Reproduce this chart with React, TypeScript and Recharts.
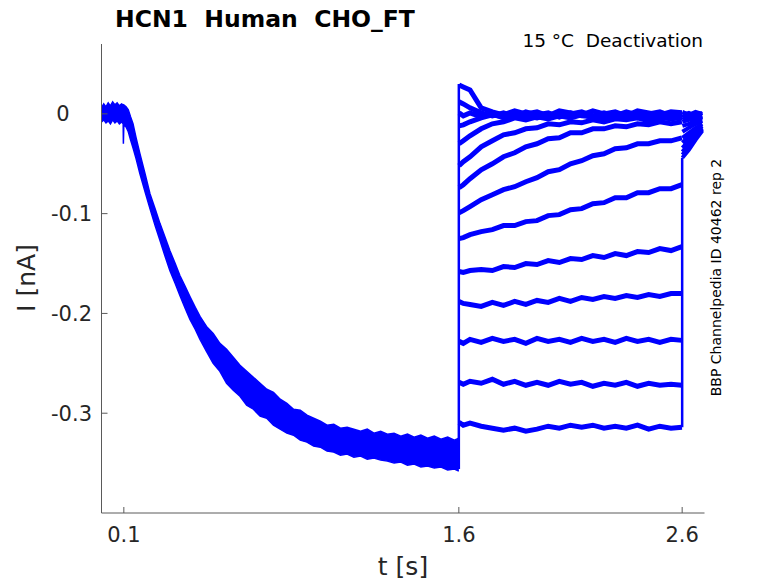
import { ComposedChart, Area, Line, XAxis, YAxis } from 'recharts';

// axis ticks
const X_TICKS = [0.1, 1.6, 2.6];
const Y_TICKS = [-0.3, -0.2, -0.1, 0];

// activation phase (all sweeps overlap): time [s], upper / lower edge of the band [nA]
const ACT_T = [
  0.0, 0.01, 0.02, 0.03, 0.04, 0.05, 0.06, 0.07, 0.08, 0.09,
  0.097, 0.098, 0.1, 0.11, 0.12, 0.13, 0.141, 0.155, 0.172, 0.195,
  0.217, 0.24, 0.262, 0.285, 0.306, 0.33, 0.351, 0.375, 0.396, 0.42,
  0.441, 0.47, 0.5, 0.53, 0.56, 0.59, 0.62, 0.65, 0.68, 0.71,
  0.74, 0.77, 0.8, 0.83, 0.86, 0.89, 0.92, 0.95, 0.98, 1.01,
  1.04, 1.07, 1.1, 1.13, 1.16, 1.19, 1.22, 1.25, 1.28, 1.31,
  1.34, 1.37, 1.4, 1.43, 1.46, 1.49, 1.52, 1.55, 1.58, 1.6,
];
const ACT_HI = [
  0.006, 0.01, 0.007, 0.011, 0.008, 0.012, 0.009, 0.011, 0.008, 0.01,
  0.009, 0.008, 0.009, 0.007, 0.004, -0.003, -0.01, -0.024, -0.04, -0.06,
  -0.08, -0.095, -0.11, -0.124, -0.137, -0.15, -0.162, -0.173, -0.183, -0.194,
  -0.203, -0.213, -0.22, -0.23, -0.236, -0.244, -0.252, -0.258, -0.264, -0.27,
  -0.276, -0.279, -0.286, -0.29, -0.296, -0.297, -0.302, -0.305, -0.308, -0.312,
  -0.311, -0.315, -0.314, -0.316, -0.318, -0.316, -0.32, -0.318, -0.321, -0.32,
  -0.323, -0.321, -0.324, -0.322, -0.325, -0.323, -0.326, -0.324, -0.327, -0.325,
];
const ACT_LO = [
  -0.008, -0.006, -0.009, -0.007, -0.01, -0.006, -0.009, -0.007, -0.01, -0.008,
  -0.01, -0.03, -0.011, -0.013, -0.018, -0.026, -0.034, -0.045, -0.06, -0.078,
  -0.095, -0.112, -0.127, -0.143, -0.157, -0.17, -0.182, -0.195, -0.206, -0.216,
  -0.226, -0.238, -0.25, -0.258, -0.27, -0.277, -0.283, -0.292, -0.296, -0.303,
  -0.305, -0.312, -0.316, -0.32, -0.322, -0.327, -0.329, -0.333, -0.334, -0.338,
  -0.339, -0.342, -0.341, -0.344, -0.343, -0.346, -0.345, -0.347, -0.348, -0.35,
  -0.349, -0.352, -0.351, -0.354, -0.353, -0.355, -0.354, -0.357, -0.356, -0.358,
];

// voltage steps at 1.6 s and 2.6 s: span of the jumps [nA]
const STEP_ON = [-0.356, 0.03];
const STEP_OFF = [-0.314, -0.044];

// deactivation phase: time [s] and one current trace per test step [nA]
// the first 22 samples run to the end of the test pulse, the last 4 are the tail after it
const STEP_T = [
  1.601, 1.62, 1.65, 1.7, 1.75, 1.8, 1.85, 1.9, 1.95, 2.0,
  2.05, 2.1, 2.15, 2.2, 2.25, 2.3, 2.35, 2.4, 2.45, 2.5,
  2.55, 2.599, 2.601, 2.63, 2.66, 2.69,
];
const PULSE_END = 22;
const SWEEP_01 = [0.029, 0.027, 0.024, 0.006, 0.002, -0.001, 0.003, 0.0, 0.002, -0.002, 0.003, 0.001, -0.001, 0.003, 0.0, 0.002, -0.002, 0.003, 0.001, -0.001, 0.002, 0.001, 0.002, -0.001, 0.002, 0.0];
const SWEEP_02 = [0.012, 0.01, 0.006, 0.001, -0.002, 0.001, -0.003, 0.002, -0.001, 0.001, -0.003, 0.0, 0.002, -0.002, 0.001, -0.002, 0.002, -0.001, 0.0, 0.002, -0.002, 0.0, -0.001, 0.001, -0.002, 0.001];
const SWEEP_03 = [0.001, -0.002, 0.001, -0.003, 0.0, -0.004, 0.0, -0.003, 0.001, -0.004, -0.001, -0.003, 0.0, -0.004, -0.001, -0.003, 0.001, -0.004, -0.001, -0.002, -0.004, -0.002, -0.003, -0.001, -0.003, -0.002];
const SWEEP_04 = [-0.012, -0.011, -0.008, -0.004, -0.001, -0.003, 0.0, -0.002, -0.004, -0.001, -0.003, 0.001, -0.002, -0.003, 0.0, -0.002, -0.004, -0.001, -0.003, 0.0, -0.002, -0.003, -0.004, -0.002, -0.004, -0.003];
const SWEEP_05 = [-0.03, -0.027, -0.022, -0.015, -0.01, -0.008, -0.004, -0.006, -0.003, -0.005, -0.002, -0.004, -0.001, -0.003, -0.005, -0.002, -0.004, -0.001, -0.003, -0.005, -0.002, -0.004, -0.006, -0.004, -0.005, -0.003];
const SWEEP_06 = [-0.052, -0.048, -0.043, -0.033, -0.027, -0.021, -0.019, -0.015, -0.014, -0.01, -0.011, -0.008, -0.009, -0.006, -0.008, -0.005, -0.006, -0.004, -0.007, -0.004, -0.005, -0.004, -0.008, -0.006, -0.005, -0.004];
const SWEEP_07 = [-0.074, -0.071, -0.065, -0.056, -0.05, -0.043, -0.039, -0.033, -0.03, -0.025, -0.024, -0.019, -0.019, -0.015, -0.015, -0.012, -0.013, -0.01, -0.011, -0.008, -0.01, -0.008, -0.012, -0.01, -0.007, -0.006];
const SWEEP_08 = [-0.099, -0.097, -0.093, -0.086, -0.081, -0.076, -0.073, -0.068, -0.064, -0.058, -0.056, -0.05, -0.047, -0.042, -0.04, -0.035, -0.034, -0.03, -0.03, -0.027, -0.027, -0.024, -0.018, -0.014, -0.01, -0.007];
const SWEEP_09 = [-0.125, -0.124, -0.121, -0.118, -0.116, -0.112, -0.112, -0.108, -0.107, -0.102, -0.101, -0.096, -0.095, -0.09, -0.089, -0.084, -0.084, -0.079, -0.079, -0.075, -0.075, -0.071, -0.024, -0.019, -0.014, -0.01];
const SWEEP_10 = [-0.158, -0.159, -0.157, -0.156, -0.157, -0.153, -0.154, -0.15, -0.151, -0.147, -0.149, -0.145, -0.146, -0.142, -0.144, -0.14, -0.142, -0.138, -0.139, -0.135, -0.137, -0.133, -0.029, -0.023, -0.017, -0.012];
const SWEEP_11 = [-0.188, -0.19, -0.191, -0.193, -0.189, -0.192, -0.188, -0.191, -0.187, -0.189, -0.185, -0.188, -0.184, -0.186, -0.183, -0.185, -0.182, -0.184, -0.181, -0.183, -0.18, -0.18, -0.034, -0.027, -0.02, -0.014];
const SWEEP_12 = [-0.228, -0.23, -0.226, -0.229, -0.225, -0.228, -0.226, -0.23, -0.225, -0.228, -0.226, -0.229, -0.225, -0.228, -0.226, -0.229, -0.225, -0.228, -0.226, -0.229, -0.226, -0.227, -0.038, -0.03, -0.022, -0.015];
const SWEEP_13 = [-0.269, -0.271, -0.268, -0.27, -0.266, -0.271, -0.268, -0.272, -0.269, -0.272, -0.268, -0.271, -0.269, -0.273, -0.27, -0.272, -0.269, -0.273, -0.27, -0.272, -0.271, -0.272, -0.041, -0.033, -0.024, -0.016];
const SWEEP_14 = [-0.309, -0.312, -0.31, -0.313, -0.315, -0.317, -0.315, -0.318, -0.316, -0.313, -0.315, -0.312, -0.314, -0.312, -0.315, -0.313, -0.315, -0.312, -0.316, -0.313, -0.315, -0.314, -0.044, -0.036, -0.026, -0.017];

const SWEEPS = [
  SWEEP_01, SWEEP_02, SWEEP_03, SWEEP_04, SWEEP_05, SWEEP_06, SWEEP_07,
  SWEEP_08, SWEEP_09, SWEEP_10, SWEEP_11, SWEEP_12, SWEEP_13, SWEEP_14,
];

const bandData = ACT_T.map((t, i) => ({ t, band: [ACT_LO[i], ACT_HI[i]] }));
const sweepData = SWEEPS.map((s) => STEP_T.map((t, i) => ({ t, v: s[i] })));
const pulseParts = sweepData.map((d) => d.slice(0, PULSE_END));
const tailParts = sweepData.map((d) => d.slice(PULSE_END));
const stepOnData = STEP_ON.map((v) => ({ t: 1.6, v }));
const stepOffData = STEP_OFF.map((v) => ({ t: 2.6, v }));

const BLUE = '#0000ff';
const INK = '#262626';
const AXIS = '#5a5a5a';
const FONT = '"DejaVu Sans", sans-serif';

// MATLAB style: tick marks point into the plot
const XTick = ({ x, y, payload }: any) => (
  <g>
    <line x1={x} y1={y} x2={x} y2={y - 6} stroke={AXIS} />
    <text x={x} y={y + 29} textAnchor="middle" fontSize={21} fill={INK} fontFamily={FONT}>
      {payload.value}
    </text>
  </g>
);

const YTick = ({ x, y, payload }: any) => (
  <g>
    <line x1={x} y1={y} x2={x + 6} y2={y} stroke={AXIS} />
    <text
      x={payload.value === 0 ? x - 32 : x - 9.5}
      y={y + 7.5}
      textAnchor="end"
      fontSize={21}
      fill={INK}
      fontFamily={FONT}
    >
      {payload.value}
    </text>
  </g>
);

const trace = (d: any[], key: string, width: number) => (
  <Line
    key={key}
    data={d}
    dataKey="v"
    type="linear"
    stroke={BLUE}
    strokeWidth={width}
    dot={false}
    activeDot={false}
    isAnimationActive={false}
  />
);

export default function App() {
  return (
    <div style={{ position: 'absolute', left: 0, top: 0, width: 778, height: 583, background: '#fff' }}>
      <ComposedChart
        width={778}
        height={583}
        data={bandData}
        margin={{ top: 44, right: 73.5, bottom: 10, left: 41.5 }}
      >
        <XAxis
          dataKey="t"
          type="number"
          domain={[0, 2.7]}
          allowDataOverflow
          ticks={X_TICKS}
          interval={0}
          height={60}
          tickSize={0}
          tickMargin={0}
          tickLine={false}
          axisLine={{ stroke: AXIS }}
          tick={<XTick />}
        />
        <YAxis
          type="number"
          domain={[-0.4, 0.07]}
          allowDataOverflow
          ticks={Y_TICKS}
          interval={0}
          width={60}
          tickSize={0}
          tickMargin={0}
          tickLine={false}
          axisLine={{ stroke: AXIS }}
          tick={<YTick />}
        />
        <Area
          dataKey="band"
          type="linear"
          stroke={BLUE}
          strokeWidth={1.5}
          fill={BLUE}
          fillOpacity={1}
          dot={false}
          activeDot={false}
          isAnimationActive={false}
        />
        {trace(stepOnData, 'on', 2.5)}
        {trace(stepOffData, 'off', 2.5)}
        {pulseParts.map((d, i) => trace(d, `p${i}`, 5))}
        {tailParts.map((d, i) => trace(d, `t${i}`, 4))}
      </ComposedChart>
      <svg
        width={778}
        height={583}
        style={{ position: 'absolute', left: 0, top: 0, pointerEvents: 'none' }}
        fontFamily={FONT}
      >
        <text x={115} y={27} fontSize={23.5} fontWeight="bold" fill="#000" style={{ whiteSpace: 'pre' }}>
          {'HCN1  Human  CHO_FT'}
        </text>
        <text x={703} y={47} fontSize={18.5} textAnchor="end" fill="#000" style={{ whiteSpace: 'pre' }}>
          {'15 °C  Deactivation'}
        </text>
        <text x={403} y={574.5} fontSize={25} textAnchor="middle" fill={INK}>
          t [s]
        </text>
        <text x={35} y={278} fontSize={25} textAnchor="middle" fill={INK} transform="rotate(-90 35 278)">
          I [nA]
        </text>
        <text x={721} y={277.5} fontSize={14} textAnchor="middle" fill="#000" transform="rotate(-90 721 277.5)">
          BBP Channelpedia ID 40462 rep 2
        </text>
      </svg>
    </div>
  );
}
